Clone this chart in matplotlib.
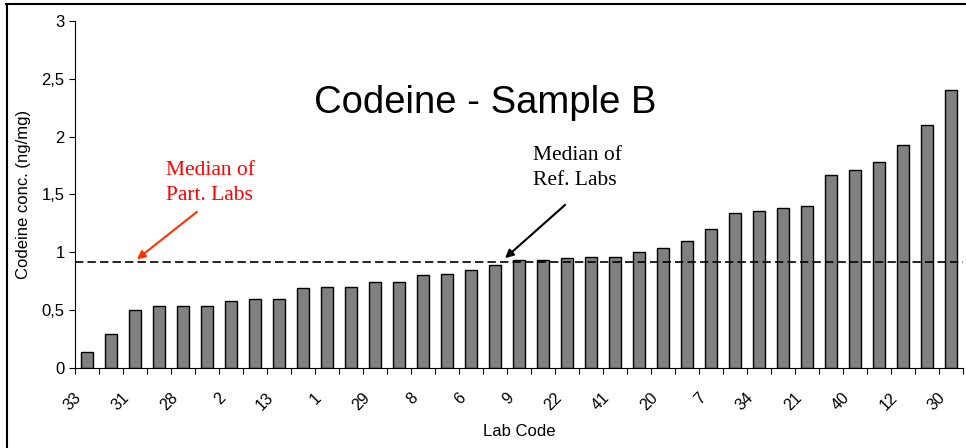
import numpy as np
import matplotlib.pyplot as plt
import matplotlib.transforms as mtransforms
from matplotlib.lines import Line2D

# lab codes in order of increasing result (only every other one is labelled)
lab_codes = ["33", "", "31", "", "28", "", "2", "", "13", "", "1", "", "29", "",
             "8", "", "6", "", "9", "", "22", "", "41", "", "20", "", "7", "",
             "34", "", "21", "", "40", "", "12", "", "30"]
codeine = [0.14, 0.29, 0.50, 0.54, 0.54, 0.54, 0.58, 0.60, 0.60, 0.69, 0.70,
           0.70, 0.74, 0.74, 0.80, 0.81, 0.85, 0.89, 0.93, 0.93, 0.95, 0.96,
           0.96, 1.00, 1.04, 1.10, 1.20, 1.34, 1.36, 1.38, 1.40, 1.67, 1.71,
           1.78, 1.93, 2.10, 2.40]
median_part = 0.92
y_ticks = [0, 0.5, 1, 1.5, 2, 2.5, 3]
y_labels = ["0", "0,5", "1", "1,5", "2", "2,5", "3"]

plt.rcParams['font.family'] = ['Liberation Sans', 'DejaVu Sans']

fig = plt.figure(figsize=(9.66, 4.48), dpi=100)
ax = fig.add_axes([75 / 966, 80 / 448, 888 / 966, 347 / 448])

x = np.arange(len(codeine))
ax.bar(x, codeine, width=0.5, color='#808080', edgecolor='black', linewidth=1)
ax.axhline(median_part, color='black', linestyle=(0, (5, 2.5)), linewidth=1.2)

ax.set_xlim(-0.5, len(codeine) - 0.5)
ax.set_ylim(0, 3)
ax.set_yticks(y_ticks)
ax.set_yticklabels(y_labels, fontsize=12)

# ticks on category boundaries, labels on category centres
ax.set_xticks(np.arange(len(codeine) + 1) - 0.5)
ax.set_xticklabels([])
ax.tick_params(axis='x', which='major', length=4, direction='out')
ax.set_xticks(x, minor=True)
ax.set_xticklabels(lab_codes, minor=True, rotation=45, ha='right', va='top',
                   rotation_mode='anchor', fontsize=11.5)
ax.tick_params(axis='x', which='minor', length=0, pad=16)
shift = mtransforms.ScaledTranslation(-13 / 100, 0, fig.dpi_scale_trans)
for lab in ax.get_xticklabels(minor=True):
    lab.set_transform(lab.get_transform() + shift)
ax.tick_params(axis='y', length=4, direction='out')

for s in ['top', 'right']:
    ax.spines[s].set_visible(False)

ax.set_ylabel("Codeine conc. (ng/mg)", fontsize=12)
ax.yaxis.set_label_coords(-44 / 888, 0.5)
ax.set_xlabel("Lab Code", fontsize=12)
ax.xaxis.set_label_coords(0.5, -56 / 347)

ax.text(0.462, 0.765, "Codeine - Sample B", transform=ax.transAxes,
        ha='center', va='center', fontsize=27.5)

ax.text(3.3, 1.79, "Median of\nPart. Labs", color='red', fontsize=15.5,
        family='Liberation Serif', ha='left', va='top', linespacing=1.45)
ax.annotate("", xy=(2.08, 0.94), xytext=(4.58, 1.35),
            arrowprops=dict(arrowstyle='-|>', color='#ff3300', lw=1.5,
                            mutation_scale=12, shrinkA=0, shrinkB=0))
ax.text(18.6, 1.92, "Median of\nRef. Labs", color='black', fontsize=15.5,
        family='Liberation Serif', ha='left', va='top', linespacing=1.45)
ax.annotate("", xy=(17.42, 0.95), xytext=(19.92, 1.41),
            arrowprops=dict(arrowstyle='-|>', color='black', lw=1.5,
                            mutation_scale=12, shrinkA=0, shrinkB=0))

# partial frame of the original picture (top and left edges)
fig.add_artist(Line2D([6 / 966, 1], [1 - 4.5 / 448, 1 - 4.5 / 448],
                      transform=fig.transFigure, color='black', lw=1.5))
fig.add_artist(Line2D([6.5 / 966, 6.5 / 966], [0, 1 - 4.5 / 448],
                      transform=fig.transFigure, color='black', lw=1.5))

fig.savefig("out.png", dpi=100)
